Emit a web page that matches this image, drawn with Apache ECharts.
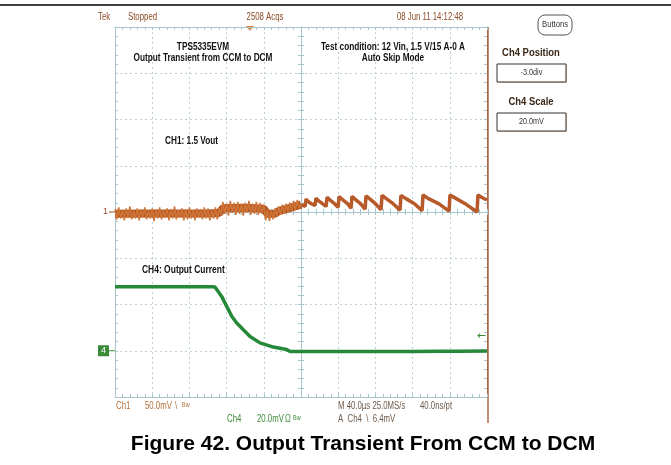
<!DOCTYPE html>
<html><head><meta charset="utf-8">
<script src="https://cdn.jsdelivr.net/npm/echarts@6/dist/echarts.min.js"></script>
<style>html,body{margin:0;padding:0;background:#fff}#c{width:671px;height:465px}</style>
</head><body><div id="c"></div>
<script>
// ---------------- data (time in µs, amplitude in mV) ----------------
const timeMin = -200, timeMax = 200, timePerDiv = 40;
const ch1PerDiv = 50;            // mV/div
const ch4PerDiv = 20;            // mV/div
const ch4PositionDiv = -3;       // div
const triggerTime = -55;         // µs
const triggerLevel = 6.4;        // mV (Ch4, falling)

// CH1 (1.5 Vout, AC) – noisy CCM part, uniform samples
const ch1NoiseStart = -200, ch1NoiseStep = 2;
const ch1NoiseMv = [
  3,-8,5,-7,2,-9,4,-6,6,-8,
  1,-7,4,-9,3,-6,5,-8,2,-7,
  4,-10,3,-7,5,-8,2,-6,4,-9,
  3,-7,6,-8,2,-6,4,-9,3,-8,
  5,-7,2,-9,4,-6,3,-8,5,-7,
  4,-9,2,-7,5,-8,4,
  -3,11,-2,9,-4,12,-1,10,-3,11,-2,9,-4,10,-1,12,-3,9,-2,11,-3,10,-2,8,
  -9,3,-10,2,-8,4,
  -5,6,-3,8,-2,9,0,10,1,12,2,13,4,9
];
// CH1 – dense centre of the noise band
const ch1BandTime = [-200,-150,-100,-88,-84,-60,-40,-36,-28,-24,-10,0];
const ch1BandMv   = [-2,-1.5,-1.5,-1,4,4.5,3.5,-2,-2,1,5,8];
// CH1 – DCM skip-mode sawtooth
const ch1SawTime = [0,2,4.4,5.4,8,11,15.1,16.1,19,23,27,28,31,36,39.9,40.9,44,50,53.8,54.8,58,64,68.9,69.9,73,80,86.1,87.1,91,99,106.5,107.5,112,122,130.2,131.2,136,148,159.2,160.2,166,178,189.3,190.3,194,200];
const ch1SawMv   = [8,10,6,14,11,9,7,15,12,9,6,16,13,9,5,16.5,14,9,4,17,14,9,3,17.5,15,9,2.5,18,15,9,2,18,15,9,1.5,18.5,15,9,1,18.5,15,8,0,18.5,16,13];

// CH4 (output current probe)
const ch4Time = [-200,-170,-140,-110,-100,-95.5,-92.5,-85.3,-79.9,-74.5,-69.1,-62,-54.8,-44.1,-29.8,-15.4,-11.8,-5,30,60,61,62,90,120,150,170,171,172,200];
const ch4Mv   = [27.7,27.7,27.7,27.7,27.7,27.7,27.6,23.5,19.2,14.9,12,9.1,6.2,3.4,1.6,0.5,-0.3,-0.3,-0.3,-0.3,0.5,-0.3,-0.3,-0.3,-0.2,-0.2,0.5,-0.2,-0.1];

// ---------------- build ----------------
const ch1Noise = ch1NoiseMv.map((v,i)=>[ch1NoiseStart + i*ch1NoiseStep, v]);
const ch1Band = ch1BandTime.map((t,i)=>[t, ch1BandMv[i]]);
const ch1Saw = ch1SawTime.map((t,i)=>[t, ch1SawMv[i]]);
const ch4 = ch4Time.map((t,i)=>[t, ch4Mv[i]]);

const G = {left:115, top:27, width:372, height:370};
const gridCol = '#a9c5cc', dotCol = '#bcd0d6';
const chart = echarts.init(document.getElementById('c'), null, {renderer:'canvas'});

function scopeX(grid, pos, inside, split){
  return {gridIndex:grid, type:'value', min:timeMin, max:timeMax, interval:timePerDiv, position:pos,
    axisLine:{show:true, onZero: grid>0, lineStyle:{color:gridCol, width:1}},
    axisTick:{show:true, inside:inside, length:3, lineStyle:{color:gridCol}},
    minorTick:{show:true, splitNumber:5, length:3, lineStyle:{color:gridCol}},
    axisLabel:{show:false},
    splitLine:{show:split, lineStyle:{color:dotCol, type:[2,3], width:1}}};
}
function scopeY(grid, pos, min, max, iv, inside, split, col){
  return {gridIndex:grid, type:'value', min:min, max:max, interval:iv, position:pos,
    axisLine:{show:true, onZero: grid>0, lineStyle:{color:col||gridCol, width:1}},
    axisTick:{show:true, inside:inside, length:3, lineStyle:{color:gridCol}},
    minorTick:{show:true, splitNumber:5, length:3, lineStyle:{color:gridCol}},
    axisLabel:{show:false},
    splitLine:{show:split, lineStyle:{color:dotCol, type:[2,3], width:1}}};
}
const ch4Min = -(4 + ch4PositionDiv)*ch4PerDiv; // -20
const ch4Max = ch4Min + 8*ch4PerDiv;            // 140

chart.setOption({
  animation:false,
  backgroundColor:'#fff',
  grid:[Object.assign({},G), Object.assign({},G), Object.assign({},G)],
  xAxis:[scopeX(0,'bottom',true,true), scopeX(0,'top',true,false), scopeX(1,'bottom',true,false), scopeX(2,'bottom',false,false)],
  yAxis:[scopeY(0,'left',-4*ch1PerDiv,4*ch1PerDiv,ch1PerDiv,true,true),
         scopeY(0,'right',ch4Min,ch4Max,ch4PerDiv,true,false,'#a8694a'),
         scopeY(1,'left',-4,4,1,true,false),
         scopeY(2,'left',-4,4,1,false,false)],
  series:[
    {type:'line', xAxisIndex:0, yAxisIndex:0, data:ch1Band, showSymbol:false, lineStyle:{color:'#b3561f', width:8}, z:3},
    {type:'line', xAxisIndex:0, yAxisIndex:0, data:ch1Noise, showSymbol:false, lineStyle:{color:'#cf7538', width:1.5}, z:4},
    {type:'line', xAxisIndex:0, yAxisIndex:0, data:ch1Saw, showSymbol:false, lineStyle:{color:'#b8592a', width:3.5}, z:3},
    {type:'line', xAxisIndex:0, yAxisIndex:1, data:ch4, showSymbol:false, lineStyle:{color:'#26893a', width:3.5}, z:3}
  ]
});

// ---------------- annotations ----------------
const SC = 0.78;
function T(text, x, y, o){
  o = o || {};
  return {type:'text', x:x, y:y, scaleX:o.sx===undefined?SC:o.sx, z:10,
    style:{text:text, fill:o.fill||'#8a4b24', font:o.font||'10px "Liberation Sans", Arial, sans-serif',
      textAlign:o.align||'left', align:o.align||'left', textVerticalAlign:'middle', verticalAlign:'middle'}};
}
const bold11 = 'bold 11px "Liberation Sans", Arial, sans-serif';
const y1 = chart.convertToPixel({yAxisIndex:0}, 0);
const y4 = chart.convertToPixel({yAxisIndex:1}, 0);
const yTrig = chart.convertToPixel({yAxisIndex:1}, triggerLevel);
const xTrig = chart.convertToPixel({xAxisIndex:0}, triggerTime);
const green = '#3b8b3b', brown = '#b0703c', grey = '#6e5a4a';

const gfx = [
  {type:'line', shape:{x1:0,y1:5,x2:671,y2:5}, style:{stroke:'#000', lineWidth:1.5}},
  // header
  T('Tek', 98, 17.5), T('Stopped', 128, 17.5), T('2508 Acqs', 265, 17.5, {align:'center'}),
  T('08 Jun 11 14:12:48', 430, 17.5, {align:'center'}),
  // in-plot labels
  T('TPS5335EVM', 203, 46.5, {align:'center', font:bold11, fill:'#111', sx:0.75}),
  T('Output Transient from CCM to DCM', 203, 57.5, {align:'center', font:bold11, fill:'#111', sx:0.75}),
  T('Test condition: 12 Vin, 1.5 V/15 A-0 A', 393, 46.5, {align:'center', font:bold11, fill:'#111', sx:0.75}),
  T('Auto Skip Mode', 393, 57.5, {align:'center', font:bold11, fill:'#111', sx:0.75}),
  T('CH1: 1.5 Vout', 165, 141, {font:bold11, fill:'#111', sx:0.75}),
  T('CH4: Output Current', 142, 270, {font:bold11, fill:'#111', sx:0.77}),
  // channel markers
  T('1', 103, y1, {fill:'#9a4f25', font:'9px "Liberation Sans", Arial, sans-serif', sx:1}),
  {type:'line', shape:{x1:109,y1:y1,x2:115,y2:y1}, style:{stroke:'#9a4f25', lineWidth:1}},
  {type:'rect', shape:{x:98,y:y4-5.5,width:11,height:11}, style:{fill:'#3a8a3a'}},
  T('4', 103.5, y4, {fill:'#fff', font:'9px "Liberation Sans", Arial, sans-serif', sx:1, align:'center'}),
  {type:'line', shape:{x1:109,y1:y4,x2:115,y2:y4}, style:{stroke:'#3a8a3a', lineWidth:1}},
  T('\u2190', 486, yTrig, {fill:green, font:'11px "DejaVu Sans", sans-serif', sx:1, align:'right'}),
  {type:'polygon', shape:{points:[[xTrig-4,26],[xTrig+4,26],[xTrig,31]]}, style:{fill:'#e07a30'}},
  // right border
  {type:'line', shape:{x1:488,y1:27,x2:488,y2:423}, style:{stroke:'#a8694a', lineWidth:1.5}},
  // bottom readouts
  T('Ch1', 116, 406, {fill:brown}), T('50.0mV', 145, 406, {fill:brown}), T('\\', 175, 406, {fill:brown}),
  T('Bw', 182, 405, {fill:brown, font:'7px "Liberation Sans", Arial, sans-serif'}),
  T('Ch4', 227, 419, {fill:green}), T('20.0mV', 257, 419, {fill:green}), T('\u03a9', 285, 419, {fill:green}),
  T('Bw', 293, 418, {fill:green, font:'7px "Liberation Sans", Arial, sans-serif'}),
  T('M 40.0\u00b5s 25.0MS/s', 338, 406, {fill:grey}), T('40.0ns/pt', 420, 406, {fill:grey}),
  T('A  Ch4  \\  6.4mV', 338, 419, {fill:grey}),
  // right panel
  {type:'rect', shape:{x:538,y:15,width:34,height:20,r:7}, style:{fill:'#fff', stroke:'#555', lineWidth:1}},
  T('Buttons', 555, 25, {align:'center', fill:'#333', font:'9px "Liberation Sans", Arial, sans-serif', sx:0.85}),
  T('Ch4 Position', 531, 53, {align:'center', fill:'#3a2818', font:'bold 10.5px "Liberation Sans", Arial, sans-serif', sx:0.9}),
  {type:'rect', shape:{x:498,y:65,width:69,height:18}, style:{fill:'#f0c8a8'}},
  {type:'rect', shape:{x:497,y:64,width:69,height:18}, style:{fill:'#fff', stroke:'#333', lineWidth:1}},
  T('-3.0div', 531.5, 73, {align:'center', fill:'#333', font:'9px "Liberation Sans", Arial, sans-serif', sx:0.8}),
  T('Ch4 Scale', 531, 102, {align:'center', fill:'#3a2818', font:'bold 10.5px "Liberation Sans", Arial, sans-serif', sx:0.9}),
  {type:'rect', shape:{x:498,y:114,width:69,height:18}, style:{fill:'#f0c8a8'}},
  {type:'rect', shape:{x:497,y:113,width:69,height:18}, style:{fill:'#fff', stroke:'#333', lineWidth:1}},
  T('20.0mV', 531.5, 122, {align:'center', fill:'#333', font:'9px "Liberation Sans", Arial, sans-serif', sx:0.8}),
  // caption
  T('Figure 42. Output Transient From CCM to DCM', 363, 444, {align:'center', fill:'#000', font:'bold 21px "Liberation Sans", Arial, sans-serif', sx:1})
];
chart.setOption({graphic:{elements:gfx}});
</script></body></html>
